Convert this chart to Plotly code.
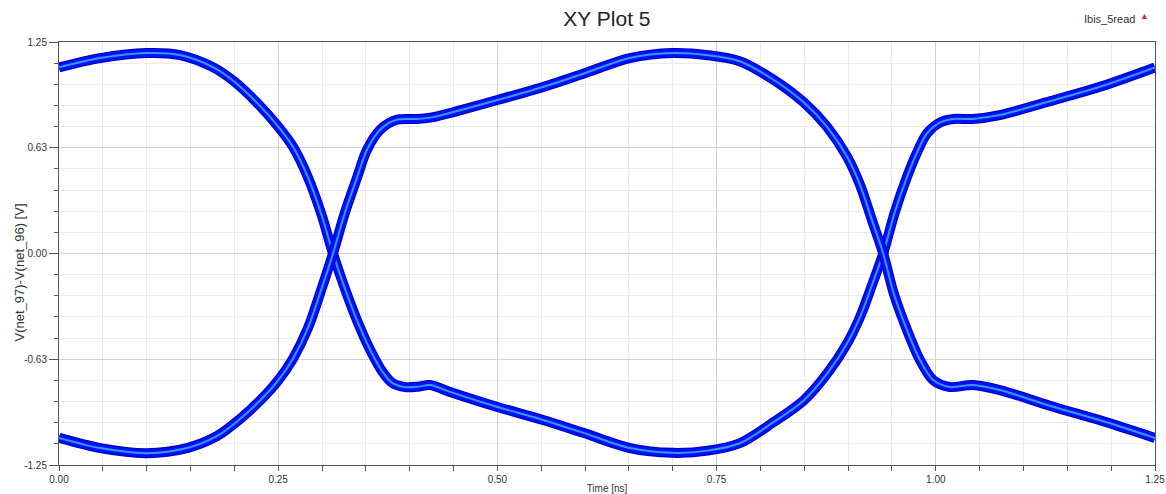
import plotly.graph_objects as go

# ---- data ----
t_a = [0.0, 0.047, 0.1, 0.138, 0.176, 0.199, 0.226, 0.25, 0.267, 0.284, 0.30, 0.3125,
       0.328, 0.343, 0.355, 0.369, 0.38, 0.395, 0.41, 0.423, 0.446, 0.50, 0.552, 0.598, 0.651,
       0.70, 0.74, 0.777, 0.814, 0.849, 0.876, 0.899, 0.914, 0.927, 0.94, 0.953, 0.967,
       0.978, 0.99, 1.005, 1.02, 1.042, 1.073, 1.13, 1.19, 1.25]
v_a = [1.10, 1.155, 1.185, 1.173, 1.10, 1.02, 0.89, 0.75, 0.63, 0.45, 0.22, 0.0,
       -0.235, -0.434, -0.57, -0.70, -0.765, -0.79, -0.787, -0.777, -0.818, -0.907, -0.984, -1.06, -1.15,
       -1.178, -1.165, -1.12, -1.0, -0.87, -0.71, -0.53, -0.37, -0.19, 0.0, 0.24, 0.45,
       0.59, 0.71, 0.775, 0.795, 0.795, 0.818, 0.90, 0.99, 1.10]

t_b = [0.0, 0.047, 0.1, 0.146, 0.18, 0.206, 0.233, 0.25, 0.267, 0.284, 0.30, 0.3125,
       0.326, 0.34, 0.351, 0.366, 0.385, 0.408, 0.427, 0.45, 0.50, 0.552, 0.602, 0.651,
       0.70, 0.74, 0.777, 0.814, 0.849, 0.876, 0.899, 0.914, 0.927, 0.94, 0.952, 0.967,
       0.982, 0.997, 1.016, 1.042, 1.073, 1.13, 1.19, 1.25]
v_b = [-1.09, -1.15, -1.18, -1.15, -1.08, -0.98, -0.85, -0.75, -0.62, -0.44, -0.20, 0.0,
       0.24, 0.45, 0.61, 0.73, 0.79, 0.795, 0.806, 0.836, 0.907, 0.984, 1.07, 1.155,
       1.185, 1.172, 1.135, 1.03, 0.895, 0.748, 0.57, 0.40, 0.20, 0.0, -0.235, -0.45,
       -0.63, -0.748, -0.789, -0.777, -0.807, -0.90, -0.99, -1.09]

x_tickvals = [0.0, 0.25, 0.5, 0.75, 1.0, 1.25]
x_ticktext = ["0.00", "0.25", "0.50", "0.75", "1.00", "1.25"]
y_tickvals = [-1.25, -0.625, 0.0, 0.625, 1.25]
y_ticktext = ["-1.25", "-0.63", "0.00", "0.63", "1.25"]

FONT = "Liberation Sans, Arial, sans-serif"

fig = go.Figure()
layers = [(10, "#0000b8"), (8, "#0010ff"), (2, "#3399f5")]
for tt, vv in [(t_a, v_a), (t_b, v_b)]:
    for w, c in layers:
        fig.add_trace(go.Scatter(x=tt, y=vv, mode="lines", showlegend=False, hoverinfo="skip",
                                 line=dict(color=c, width=w, shape="spline", smoothing=0.9)))

axis_common = dict(
    showline=True, linecolor="#555555", linewidth=1, mirror=True,
    ticks="outside", tickcolor="#555555",
    showgrid=True, gridcolor="#d2d2d2", gridwidth=1,
    zeroline=False, automargin=False,
    tickfont=dict(family=FONT, size=10, color="#333333"),
)

fig.update_xaxes(
    range=[0, 1.25], tickmode="array", tickvals=x_tickvals, ticktext=x_ticktext,
    ticklen=5, ticklabeloverflow="allow",
    minor=dict(dtick=0.05, tick0=0, showgrid=True, gridcolor="#ebebeb", ticks="outside",
               ticklen=5, tickcolor="#555555"),
    title=dict(text="Time [ns]", font=dict(family=FONT, size=10, color="#333333"), standoff=2),
    **axis_common,
)
fig.update_yaxes(
    range=[-1.25, 1.25], tickmode="array", tickvals=y_tickvals, ticktext=y_ticktext,
    ticklen=9,
    minor=dict(dtick=0.125, tick0=0, showgrid=True, gridcolor="#ebebeb", ticks="outside",
               ticklen=4, tickcolor="#555555"),
    **axis_common,
)

fig.update_layout(
    width=1166, height=494,
    margin=dict(l=59, r=11, t=42, b=29),
    paper_bgcolor="white", plot_bgcolor="white",
    title=dict(text="XY Plot 5", x=0.5205, xanchor="center", y=0.963, yanchor="middle",
               font=dict(family=FONT, size=21, color="#222222")),
    showlegend=False,
    annotations=[
        dict(text="V(net_97)-V(net_96) [V]", textangle=-90, xref="paper", yref="paper",
             x=0, y=0.5, xanchor="center", yanchor="middle", showarrow=False,
             xshift=-40, yshift=-19, font=dict(family=FONT, size=13, color="#333333")),
        dict(text="Ibis_5read", xref="paper", yref="paper", x=0.996, y=1.035,
             xanchor="right", yanchor="bottom", showarrow=False,
             font=dict(family=FONT, size=11, color="#333333"), xshift=-14),
        dict(text="▲", xref="paper", yref="paper", x=0.996, y=1.045,
             xanchor="right", yanchor="bottom", showarrow=False,
             font=dict(family=FONT, size=9, color="#c0392b")),
    ],
)

fig.write_html("out.html", config={"displayModeBar": False},
               post_script="document.body.style.margin='0';")
